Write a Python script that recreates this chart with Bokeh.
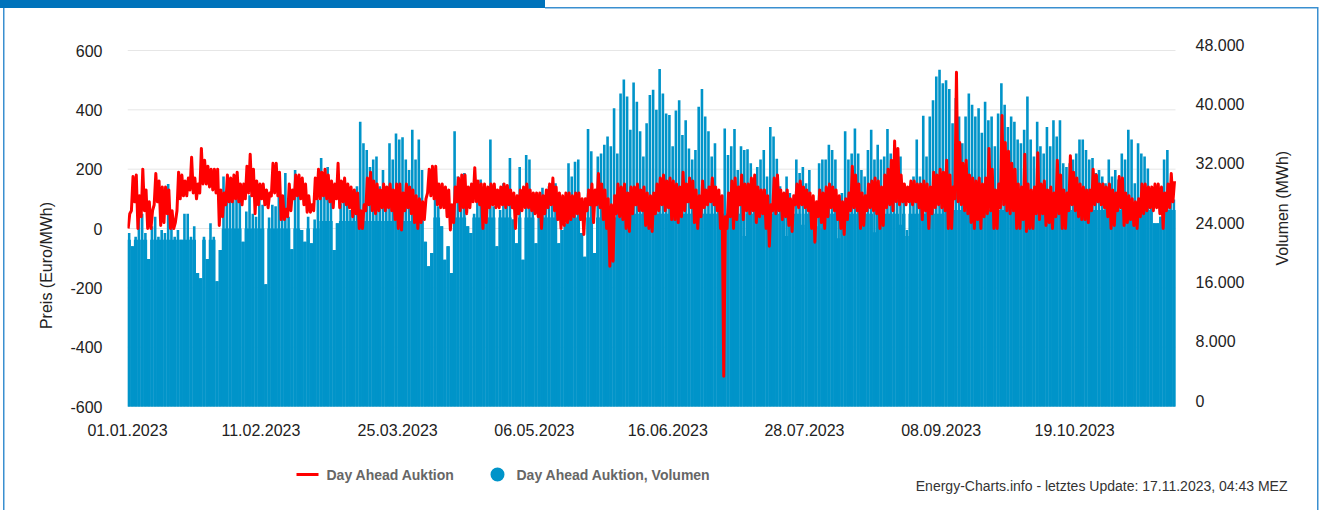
import numpy as np
from bokeh.plotting import figure
from bokeh.models import Range1d, LinearAxis, FixedTicker, ColumnDataSource
from bokeh.embed import file_html
from bokeh.resources import INLINE
from bokeh.core.properties import value

# ---------------- data (one entry per day from 01.01.2023) -------------
# Day-ahead volume: daily peak (MWh)
vol_hi = [
    23400, 21600, 22900, 28500, 26000, 23400, 19900, 24300, 25600, 22900,
    23800, 23400, 30000, 24300, 22900, 23800, 22500, 26000, 26000, 22900,
    24300, 18000, 17300, 22900, 19900, 24700, 22900, 16900, 21100, 31000,
    27900, 29700, 27900, 28300, 27900, 22200, 26300, 28500, 26000, 25600,
    28800, 27200, 16500, 25500, 27200, 27000, 31000, 25600, 31500, 25600,
    21200, 31900, 28800, 23800, 22200, 25600, 22000, 25200, 27900, 33500,
    28800, 32300, 28300, 21100, 24700, 27400, 28300, 28800, 26500, 27000,
    29700, 38400, 35500, 34600, 32300, 33300, 33700, 29700, 31900, 29700,
    35500, 33300, 36800, 36000, 36300, 33300, 31900, 37300, 33300, 36000,
    31900, 22200, 18900, 20700, 28000, 27000, 24300, 19800, 21600, 18000,
    37100, 31000, 27400, 31500, 24300, 23400, 26000, 27900, 30600, 29700,
    27900, 36000, 27000, 21600, 26500, 30100, 27900, 33500, 25200, 22000,
    32300, 19800, 33900, 33300, 28800, 22000, 27400, 29500, 27400, 29700,
    28800, 30100, 22000, 23800, 24700, 32800, 31000, 33000, 33300, 23400,
    20200, 37400, 34400, 20700, 33700, 34100, 35300, 36400, 35100, 40200,
    34100, 42200, 44100, 41800, 37300, 43700, 41100, 37100, 33700, 38200,
    42000, 42700, 40000, 45500, 42200, 39500, 39300, 35100, 39900, 41300,
    36600, 38600, 34800, 33300, 34600, 40400, 42800, 39100, 37100, 33700,
    35500, 29200, 27900, 37500, 33900, 35100, 37400, 31900, 35100, 34600,
    34700, 32800, 30600, 32300, 33300, 34600, 31000, 37700, 36400, 33400,
    29700, 27000, 31000, 28800, 27400, 33300, 31500, 32300, 30100, 31900,
    26500, 24300, 32800, 33300, 33300, 35300, 34600, 33300, 27400, 28800,
    37100, 33300, 34100, 37500, 34100, 31900, 31000, 34600, 37300, 33300,
    35300, 33300, 33700, 37400, 34100, 33300, 34600, 33700, 28800, 23800,
    29700, 31000, 36000, 31000, 39200, 33700, 39100, 41300, 44500, 45400,
    43600, 44000, 42800, 38200, 41600, 39100, 35500, 39100, 42200, 40700,
    39100, 40200, 36900, 41100, 38600, 39100, 35100, 39500, 43600, 40700,
    37700, 39100, 38400, 36000, 35500, 37300, 41800, 36000, 33700, 38400,
    35100, 34100, 37700, 35100, 38600, 36400, 38600, 32800, 32300, 32800,
    33300, 34100, 36000, 36000, 34600, 33300, 33500, 31500, 31900, 31000,
    30100, 33300, 31000, 31900, 30600, 34100, 33300, 37300, 36000, 30100,
    35500, 34100, 33700, 32100, 27900, 24700, 24700, 25600, 33300, 34600,
    28800, 27900,
]
# Day-ahead volume: daily base / night level (MWh)
vol_lo = [
    22500, 21600, 22500, 22500, 22500, 22500, 19900, 22500, 22500, 22500,
    22500, 22500, 22500, 22500, 22500, 22500, 22500, 22500, 22500, 22500,
    22500, 18000, 17300, 22500, 19900, 22500, 22500, 16900, 21100, 24000,
    24000, 24000, 24000, 24000, 24000, 22200, 24000, 24000, 24000, 24000,
    24000, 24000, 16500, 24000, 24000, 24000, 24000, 24000, 24000, 24000,
    21200, 24000, 24000, 23800, 22200, 24000, 22000, 24000, 24000, 25000,
    25000, 25000, 25000, 21100, 24700, 25000, 25000, 25000, 25000, 25000,
    25000, 25000, 25000, 25000, 25000, 25000, 25000, 25000, 25000, 25000,
    25000, 25000, 25000, 25000, 25000, 25000, 25000, 25000, 25000, 25000,
    25000, 22200, 18900, 20700, 25500, 25500, 24300, 19800, 21600, 18000,
    25500, 25500, 25500, 25500, 24300, 23400, 25500, 25500, 25500, 25500,
    25500, 25500, 25500, 21600, 25500, 25500, 25500, 25500, 25200, 22000,
    25500, 19800, 25500, 25500, 25500, 22000, 25500, 25500, 25500, 25500,
    25500, 25500, 22000, 23800, 24700, 25500, 25500, 25500, 25500, 23400,
    20200, 25500, 25500, 20700, 25500, 25500, 25500, 25500, 25500, 25500,
    25500, 26000, 26000, 26000, 26000, 26000, 26000, 26000, 26000, 26000,
    26000, 26000, 26000, 26000, 26000, 26000, 26000, 26000, 26000, 26000,
    26000, 26000, 26000, 26000, 26000, 26000, 26000, 26000, 26000, 26000,
    26000, 26000, 26000, 26000, 26000, 26000, 26000, 26000, 26000, 23000,
    26000, 26000, 26000, 26000, 26000, 26000, 26000, 26000, 26000, 26000,
    26000, 26000, 23000, 26000, 26000, 26000, 26000, 24500, 26000, 26000,
    26000, 24300, 26000, 24000, 26000, 26000, 26000, 26000, 22700, 26000,
    26000, 26000, 26000, 26000, 26000, 26000, 26000, 26000, 26000, 23500,
    26000, 26000, 26000, 26000, 26000, 26000, 26000, 24500, 26000, 23000,
    26000, 26000, 26000, 26000, 26000, 26000, 26000, 26000, 26000, 26000,
    26000, 26500, 26500, 26500, 26500, 26500, 26500, 26500, 26500, 26500,
    26500, 26500, 26500, 26500, 26500, 26500, 26500, 26500, 26500, 26500,
    26500, 26500, 26500, 26500, 26500, 26500, 26500, 26500, 26500, 26500,
    26500, 26500, 26500, 26500, 26500, 26500, 26500, 26500, 26500, 26500,
    26500, 26500, 26500, 26500, 26500, 26500, 26500, 26500, 26500, 26500,
    26500, 26500, 26500, 26500, 26500, 26500, 26500, 26500, 26500, 26500,
    26500, 26500, 26500, 26500, 26500, 24700, 24700, 25600, 26500, 26500,
    26500, 26500,
]
# Day-ahead price: daily low and high (Euro/MWh)
price_lo = [
    0, 60, 90, 0, 40, 60, 0, 0, 80, 90,
    10, 20, 50, 0, 0, 60, 100, 110, 110, 130,
    120, 100, 120, 150, 150, 140, 130, 120, 10, 40,
    80, 90, 90, 100, 90, 80, 100, 120, 110, 50,
    80, 100, 80, 70, 110, 120, 110, 30, 30, 40,
    60, 100, 110, 100, 80, 55, 55, 60, 100, 100,
    110, 100, 90, 70, 100, 70, 90, 80, 70, 40,
    50, 0, 0, 60, 80, 60, 50, 60, 70, 60,
    70, 60, 30, 0, -5, 60, 70, 50, 20, 0,
    20, 30, 120, 110, 100, 80, 70, 70, 40, -5,
    20, 90, 60, 70, 50, 70, 90, 90, 80, 0,
    20, 70, 80, 70, 70, 80, 70, 80, 70, 0,
    50, 60, 70, 70, 60, 50, 40, 0, 50, 70,
    80, 60, 30, 0, 10, 20, 30, 40, 50, 30,
    -20, 60, 80, 20, 80, 70, 30, 0, -127, -110,
    50, 40, 30, 0, -10, 50, 80, 60, 60, 10,
    0, -10, 50, 60, 80, 60, 70, 30, 30, 20,
    40, 60, 90, 70, 20, 0, 40, 70, 80, 90,
    80, 60, 0, -498, 0, 40, 0, 30, 80, 30,
    60, 50, 60, 20, 40, 50, 0, -60, 60, 50,
    60, 30, 40, 10, -10, 80, 70, 80, 70, 60,
    0, -46, 40, 20, 0, 40, 70, 60, 30, 0,
    -20, 30, 60, 70, 60, 0, 10, 60, 70, 60,
    50, 0, 10, 70, 80, 60, 90, 80, 90, 80,
    90, 80, 90, 70, 30, 60, 0, 50, 70, 80,
    70, 60, 0, 0, 100, 90, 80, 60, 50, 20,
    0, 30, 0, 40, 50, 60, 0, 0, 70, 80,
    60, 50, 60, 0, 0, 30, -10, 0, 0, 50,
    30, 50, 10, 20, 0, 40, 50, 0, 0, 60,
    80, 60, 40, 30, 30, 20, 60, 80, 90, 80,
    70, 40, 0, 10, 60, 70, 10, 20, 30, 10,
    0, 40, 50, 60, 70, 60, 70, 50, 0, 60,
    70, 90,
]
price_hi = [
    50, 175, 180, 110, 200, 130, 90, 60, 185, 160,
    140, 140, 130, 60, 20, 190, 180, 160, 170, 240,
    170, 150, 270, 230, 210, 200, 200, 200, 130, 120,
    180, 170, 180, 190, 150, 150, 210, 250, 200, 160,
    150, 150, 130, 120, 220, 220, 190, 110, 65, 150,
    130, 180, 180, 170, 150, 110, 80, 170, 200, 190,
    200, 180, 160, 150, 220, 160, 170, 150, 140, 130,
    120, 60, 80, 170, 190, 160, 150, 130, 150, 140,
    150, 130, 150, 150, 120, 150, 140, 130, 110, 100,
    90, 100, 200, 210, 210, 150, 150, 140, 130, 80,
    140, 170, 180, 180, 140, 150, 205, 160, 150, 150,
    140, 150, 150, 130, 140, 150, 145, 130, 120, 110,
    130, 140, 150, 130, 120, 120, 120, 110, 130, 150,
    170, 140, 120, 110, 120, 120, 110, 120, 120, 100,
    100, 130, 150, 130, 185, 150, 130, 100, 80, 110,
    150, 140, 150, 120, 140, 140, 150, 130, 140, 120,
    110, 120, 150, 170, 180, 160, 170, 160, 150, 140,
    190, 150, 170, 160, 130, 110, 160, 130, 140, 170,
    140, 130, 110, 40, 120, 160, 170, 140, 180, 150,
    150, 170, 180, 140, 130, 130, 110, 80, 170, 180,
    130, 120, 130, 100, 110, 150, 160, 140, 130, 120,
    110, 90, 130, 120, 140, 150, 140, 130, 110, 90,
    100, 120, 210, 180, 150, 120, 110, 150, 160, 170,
    160, 140, 180, 200, 230, 295, 270, 180, 150, 140,
    160, 160, 150, 150, 160, 150, 140, 190, 180, 200,
    190, 230, 180, 140, 527, 290, 220, 230, 180, 170,
    160, 170, 150, 170, 270, 200, 130, 150, 381, 290,
    260, 220, 200, 150, 140, 250, 150, 130, 140, 255,
    150, 160, 130, 140, 120, 230, 180, 130, 120, 245,
    190, 170, 150, 140, 130, 130, 200, 180, 150, 150,
    140, 150, 130, 120, 175, 170, 120, 110, 100, 90,
    100, 150, 150, 140, 140, 150, 150, 140, 120, 150,
    185, 160,
]

# axis ticks / labels
x_tick_days = [0, 41, 83, 125, 166, 208, 250, 291]
x_tick_labels = ["01.01.2023", "11.02.2023", "25.03.2023", "06.05.2023",
                 "16.06.2023", "28.07.2023", "08.09.2023", "19.10.2023"]
price_ticks = [-600, -400, -200, 0, 200, 400, 600]
price_tick_labels = ["-600", "-400", "-200", "0", "200", "400", "600"]
vol_ticks = [0, 8000, 16000, 24000, 32000, 40000, 48000]
vol_tick_labels = ["0", "8.000", "16.000", "24.000", "32.000", "40.000", "48.000"]
series_names = ["Day Ahead Auktion", "Day Ahead Auktion, Volumen"]
footer = "Energy-Charts.info - letztes Update: 17.11.2023, 04:43 MEZ"

# ---------------- styling / layout ----------------
BLUE = "#0094c9"
RED = "#ff0000"
FONT = "Liberation Sans"
TXT = "#222222"
W, H = 1320, 510
NDAYS = 322
PMIN, PMAX, VMAX = -600, 600, 48000
# page pixels: data area (where the axes' end ticks sit) and the drawing frame
DL, DR, DT, DB = 127, 1175, 50, 406
FLm, FRm, FTm, FBm = 127, 1300, 30, 500

px_day = (DR - DL) / NDAYS
p_px = (PMAX - PMIN) / (DB - DT)
v_px = VMAX / (DB - DT)
x_end = (FRm - DL) / px_day
y_lo, y_hi = PMIN - (FBm - DB) * p_px, PMAX + (DT - FTm) * p_px
v_lo, v_hi = -(FBm - DB) * v_px, VMAX + (DT - FTm) * v_px
v_shift = 5.7 * v_px          # right-axis labels sit slightly above their grid line


def dx(px):
    return (px - DL) / px_day


def dy(py):
    return PMAX - (py - DT) * p_px


n = min(len(vol_hi), len(vol_lo), len(price_lo), len(price_hi))
days = np.arange(n)

frame_css = {
    "background-image": ("linear-gradient(#0073bb,#0073bb), linear-gradient(#3a8fd0,#3a8fd0), "
                         "linear-gradient(#3a8fd0,#3a8fd0), linear-gradient(#3a8fd0,#3a8fd0)"),
    "background-size": "545px 8px, 773px 1.5px, 1.5px 502px, 1.5px 503px",
    "background-position": "0px 0px, 545px 7px, 2.5px 8px, 1316.5px 7px",
    "background-repeat": "no-repeat",
}

p = figure(width=W, height=H, output_backend="svg", toolbar_location=None,
           x_range=Range1d(0, x_end), y_range=Range1d(y_lo, y_hi),
           min_border_left=FLm, min_border_right=W - FRm, min_border_top=FTm,
           min_border_bottom=H - FBm, background_fill_color="white",
           styles=frame_css)
p.border_fill_alpha = 0
p.outline_line_color = None
p.extra_y_ranges = {"vol": Range1d(v_lo, v_hi),
                    "volax": Range1d(v_lo - v_shift, v_hi - v_shift)}
p.xgrid.visible = False
p.ygrid.visible = False

# horizontal grid lines over the data area
p.segment(x0=[0] * len(price_ticks), x1=[NDAYS] * len(price_ticks),
          y0=price_ticks, y1=price_ticks, line_color="#e6e6e6", line_width=1)

src = ColumnDataSource(dict(x=days + 0.5, lo=vol_lo[:n], hi=vol_hi[:n]))
p.vbar(x="x", top="lo", bottom=0, width=1.08, source=src, y_range_name="vol",
       fill_color=BLUE, line_color=None)
p.vbar(x="x", top="hi", bottom=0, width=0.8, source=src, y_range_name="vol",
       fill_color=BLUE, line_color=None)

xs, ys = [], []
for i in range(n):
    xs.extend([i + 0.2, i + 0.7])
    ys.extend([price_lo[i], price_hi[i]])
p.line(xs, ys, line_color=RED, line_width=3, line_join="round")

# x axis
xa = p.xaxis[0]
xa.ticker = FixedTicker(ticks=x_tick_days)
xa.major_label_overrides = {d: l for d, l in zip(x_tick_days, x_tick_labels)}
xa.axis_line_color = None
xa.major_tick_line_color = None
xa.minor_tick_line_color = None
xa.major_tick_out = 0
xa.major_tick_in = 0
xa.major_label_standoff = 423 - FBm
xa.major_label_text_font = FONT
xa.major_label_text_font_size = "16px"
xa.major_label_text_color = TXT

# left axis
ya = p.yaxis[0]
ya.ticker = FixedTicker(ticks=price_ticks)
ya.major_label_overrides = {t: l for t, l in zip(price_ticks, price_tick_labels)}
ya.axis_line_color = None
ya.major_tick_line_color = None
ya.minor_tick_line_color = None
ya.major_tick_out = 0
ya.major_tick_in = 0
ya.major_label_standoff = 25
ya.major_label_text_font = FONT
ya.major_label_text_font_size = "16px"
ya.major_label_text_color = TXT
ya.axis_label = "Preis (Euro/MWh)"
ya.axis_label_text_font = FONT
ya.axis_label_text_font_size = "16px"
ya.axis_label_text_font_style = "normal"
ya.axis_label_text_color = TXT
ya.axis_label_standoff = 12

# right axis
ra = LinearAxis(y_range_name="volax", ticker=FixedTicker(ticks=vol_ticks))
ra.major_label_overrides = {t: l for t, l in zip(vol_ticks, vol_tick_labels)}
ra.axis_line_color = None
ra.major_tick_line_color = None
ra.minor_tick_line_color = None
ra.major_tick_out = 0
ra.major_tick_in = 0
ra.major_label_standoff = 1195 - FRm
ra.major_label_text_font = FONT
ra.major_label_text_font_size = "16px"
ra.major_label_text_color = TXT
ra.axis_label = "Volumen (MWh)"
ra.axis_label_orientation = np.pi / 2
ra.axis_label_text_font = FONT
ra.axis_label_text_font_size = "16px"
ra.axis_label_text_font_style = "normal"
ra.axis_label_text_color = TXT
ra.axis_label_standoff = 35
p.add_layout(ra, "right")

# legend (drawn in the frame below the data area)
p.segment(x0=[dx(296)], x1=[dx(318)], y0=[dy(474)], y1=[dy(474)],
          line_color=RED, line_width=3)
p.scatter(x=[dx(497)], y=[dy(474)], size=14, fill_color=BLUE, line_color=None)
p.text(x=[dx(326), dx(516)], y=[dy(474), dy(474)], text=series_names,
       text_font=value(FONT), text_font_size="14px", text_font_style="bold",
       text_color="#666666", text_baseline="middle", text_align="left")
# footer
p.text(x=[dx(1287)], y=[dy(485)], text=[footer], text_font=value(FONT),
       text_font_size="14px", text_color="#333333", text_baseline="middle",
       text_align="right")

open("out.html", "w").write(file_html(p, INLINE))
